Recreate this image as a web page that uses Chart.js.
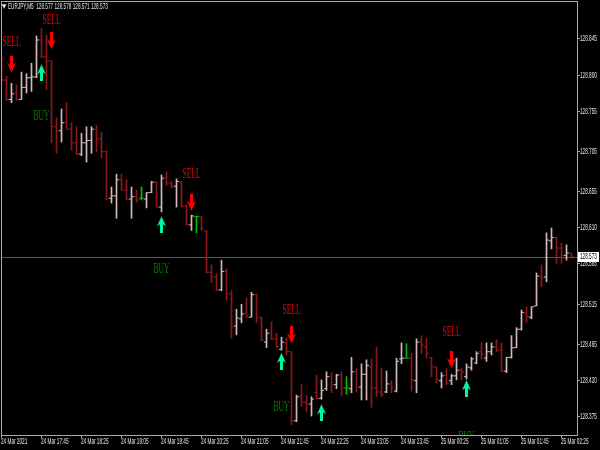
<!DOCTYPE html>
<html>
<head>
<meta charset="utf-8">
<script src="https://cdn.jsdelivr.net/npm/chart.js@4.4.1/dist/chart.umd.min.js"></script>
<style>
  html, body { margin: 0; padding: 0; background: #000; }
  canvas { display: block; }
</style>
</head>
<body>
<canvas id="chart" width="600" height="450"></canvas>
<script>
// EURJPY M5 bars, 24 Mar 17:05 .. 25 Mar 02:35
const symbol = 'EURJPY,M5';

const timeLabels = ['24 Mar 2021', '24 Mar 17:45', '24 Mar 18:25', '24 Mar 19:05', '24 Mar 19:45',
    '24 Mar 20:25', '24 Mar 21:05', '24 Mar 21:45', '24 Mar 22:25', '24 Mar 23:05',
    '24 Mar 23:45', '25 Mar 00:25', '25 Mar 01:05', '25 Mar 01:45', '25 Mar 02:25'];
const labelStep = 8;

const opens = [
    128.803, 128.793, 128.769, 128.776, 128.769, 128.784, 128.796, 128.797, 128.843, 128.822,
    128.817, 128.735, 128.730, 128.740, 128.732, 128.715, 128.701, 128.715, 128.718, 128.732,
    128.720, 128.704, 128.646, 128.649, 128.669, 128.656, 128.645, 128.648, 128.646, 128.645,
    128.653, 128.666, 128.635, 128.671, 128.665, 128.661, 128.666, 128.636, 128.613, 128.623,
    128.623, 128.605, 128.554, 128.548, 128.532, 128.555, 128.527, 128.487, 128.496, 128.503,
    128.498, 128.526, 128.498, 128.467, 128.478, 128.471, 128.458, 128.466, 128.455, 128.369,
    128.399, 128.392, 128.390, 128.404, 128.397, 128.409, 128.424, 128.414, 128.426, 128.410,
    128.409, 128.430, 128.411, 128.427, 128.436, 128.410, 128.405, 128.405, 128.415, 128.406,
    128.446, 128.447, 128.447, 128.419, 128.467, 128.461, 128.448, 128.436, 128.419, 128.426,
    128.419, 128.425, 128.432, 128.424, 128.435, 128.441, 128.455, 128.447, 128.455, 128.461,
    128.457, 128.431, 128.448, 128.460, 128.483, 128.503, 128.498, 128.512, 128.549, 128.548,
    128.593, 128.597, 128.584, 128.575, 128.577
];
const highs = [
    128.823, 128.798, 128.789, 128.787, 128.803, 128.801, 128.814, 128.848, 128.857, 128.849,
    128.817, 128.746, 128.757, 128.765, 128.740, 128.735, 128.727, 128.735, 128.735, 128.737,
    128.728, 128.705, 128.660, 128.676, 128.676, 128.669, 128.660, 128.656, 128.660, 128.653,
    128.667, 128.667, 128.675, 128.679, 128.667, 128.670, 128.667, 128.638, 128.625, 128.624,
    128.624, 128.606, 128.563, 128.552, 128.569, 128.558, 128.531, 128.508, 128.514, 128.522,
    128.529, 128.527, 128.498, 128.483, 128.492, 128.478, 128.473, 128.472, 128.455, 128.401,
    128.414, 128.401, 128.399, 128.426, 128.420, 128.430, 128.429, 128.427, 128.430, 128.424,
    128.448, 128.434, 128.440, 128.445, 128.446, 128.461, 128.435, 128.431, 128.419, 128.447,
    128.466, 128.465, 128.453, 128.471, 128.475, 128.472, 128.448, 128.436, 128.429, 128.434,
    128.427, 128.447, 128.435, 128.440, 128.448, 128.455, 128.466, 128.466, 128.466, 128.470,
    128.466, 128.448, 128.475, 128.485, 128.507, 128.511, 128.511, 128.553, 128.563, 128.603,
    128.609, 128.598, 128.590, 128.588, 128.578
];
const lows = [
    128.791, 128.768, 128.765, 128.768, 128.769, 128.777, 128.779, 128.796, 128.821, 128.781,
    128.715, 128.702, 128.716, 128.732, 128.706, 128.700, 128.699, 128.691, 128.702, 128.704,
    128.696, 128.644, 128.640, 128.621, 128.656, 128.644, 128.621, 128.641, 128.644, 128.634,
    128.653, 128.635, 128.629, 128.662, 128.659, 128.635, 128.635, 128.613, 128.606, 128.603,
    128.606, 128.553, 128.541, 128.531, 128.531, 128.519, 128.472, 128.476, 128.491, 128.498,
    128.498, 128.491, 128.468, 128.460, 128.470, 128.460, 128.457, 128.451, 128.364, 128.368,
    128.387, 128.380, 128.375, 128.396, 128.396, 128.407, 128.404, 128.409, 128.400, 128.402,
    128.404, 128.405, 128.395, 128.395, 128.386, 128.400, 128.399, 128.404, 128.404, 128.405,
    128.440, 128.447, 128.406, 128.404, 128.453, 128.447, 128.424, 128.416, 128.410, 128.414,
    128.414, 128.420, 128.420, 128.421, 128.432, 128.440, 128.446, 128.443, 128.451, 128.455,
    128.430, 128.429, 128.447, 128.460, 128.482, 128.491, 128.496, 128.512, 128.536, 128.542,
    128.583, 128.565, 128.565, 128.569, 128.571
];
const closes = [
    128.793, 128.769, 128.776, 128.769, 128.784, 128.796, 128.797, 128.843, 128.822, 128.817,
    128.735, 128.730, 128.740, 128.732, 128.715, 128.701, 128.715, 128.718, 128.732, 128.720,
    128.704, 128.646, 128.649, 128.669, 128.656, 128.645, 128.648, 128.644, 128.646, 128.653,
    128.666, 128.635, 128.671, 128.665, 128.661, 128.667, 128.636, 128.613, 128.624, 128.623,
    128.609, 128.554, 128.548, 128.532, 128.555, 128.527, 128.487, 128.497, 128.502, 128.498,
    128.526, 128.498, 128.470, 128.478, 128.471, 128.461, 128.467, 128.455, 128.369, 128.399,
    128.392, 128.390, 128.396, 128.397, 128.407, 128.424, 128.414, 128.426, 128.410, 128.410,
    128.430, 128.411, 128.427, 128.438, 128.410, 128.405, 128.402, 128.415, 128.411, 128.443,
    128.447, 128.447, 128.420, 128.467, 128.463, 128.453, 128.436, 128.420, 128.425, 128.416,
    128.425, 128.432, 128.430, 128.436, 128.446, 128.453, 128.452, 128.455, 128.461, 128.457,
    128.431, 128.448, 128.460, 128.483, 128.504, 128.499, 128.511, 128.549, 128.547, 128.594,
    128.597, 128.584, 128.575, 128.578, 128.573
];

const priceTicks = [128.845, 128.800, 128.755, 128.705, 128.655, 128.610, 128.565, 128.515, 128.465, 128.420, 128.375];

// signal indicator
const sellBars = [2, 10, 38, 58, 90];
const sellArrowPrices = [128.813, 128.842, 128.641, 128.476, 128.445];
const sellTextPrices = [128.842, 128.869, 128.677, 128.508, 128.481];
const buyBars = [8, 32, 56, 64, 93];
const buyArrowPrices = [128.802, 128.613, 128.443, 128.379, 128.409];
const buyTextPrices = [128.750, 128.559, 128.387, 128.323, 128.350];

const bullColor = '#d2baba';
const bearColor = '#8c1a1a';
const dojiColor = '#00c000';
const axisColor = '#a8a8a8';
const textColor = '#e4e4e4';
const sansScale = 0.52;
const serifScale = 0.5;

const barColors = opens.map((o, i) => closes[i] > o ? bullColor : (closes[i] < o ? bearColor : dojiColor));

function makeArrow(color, down) {
    const c = document.createElement('canvas');
    c.width = 9;
    c.height = 17;
    const g = c.getContext('2d');
    const pts = [[3, 0], [6, 0], [6, 9], [9, 7], [4.5, 17], [0, 7], [3, 9]];
    g.fillStyle = color;
    g.beginPath();
    pts.forEach(([px, py], k) => {
        const yy = down ? py : 17 - py;
        if (k === 0) g.moveTo(px, yy); else g.lineTo(px, yy);
    });
    g.closePath();
    g.fill();
    return c;
}

function condensedText(ctx, text, x, y, scaleX, align) {
    ctx.save();
    ctx.translate(x, y);
    ctx.scale(scaleX, 1);
    ctx.textAlign = align;
    ctx.fillText(text, 0, 0);
    ctx.restore();
}

const terminalPlugin = {
    id: 'terminal',
    beforeDatasetsDraw(chart) {
        const {ctx, chartArea: a, scales: {y}} = chart;
        const py = Math.round(y.getPixelForValue(closes[closes.length - 1])) + 0.5;
        ctx.save();
        ctx.strokeStyle = '#4c5c6c';
        ctx.lineWidth = 1;
        ctx.beginPath();
        ctx.moveTo(a.left, py);
        ctx.lineTo(a.right, py);
        ctx.stroke();
        ctx.restore();
    },
    afterDatasetsDraw(chart) {
        const {ctx, chartArea: a, scales: {x, y}} = chart;

        // signal labels
        ctx.save();
        ctx.beginPath();
        ctx.rect(a.left, a.top, a.right - a.left, a.bottom - a.top);
        ctx.clip();
        ctx.textBaseline = 'alphabetic';
        ctx.font = '15px "Liberation Serif"';
        ctx.fillStyle = '#f00000';
        sellBars.forEach((b, k) => {
            condensedText(ctx, 'SELL', x.getPixelForValue(b), y.getPixelForValue(sellTextPrices[k]) + 5, serifScale, 'center');
        });
        ctx.fillStyle = '#008000';
        buyBars.forEach((b, k) => {
            condensedText(ctx, 'BUY', x.getPixelForValue(b), y.getPixelForValue(buyTextPrices[k]) + 5, serifScale, 'center');
        });
        ctx.restore();

        // frame
        ctx.save();
        ctx.strokeStyle = axisColor;
        ctx.lineWidth = 1;
        ctx.strokeRect(a.left + 0.5, a.top + 0.5, a.right - a.left, a.bottom - a.top);

        ctx.font = '9px "Liberation Sans"';
        ctx.textBaseline = 'middle';

        // price axis
        priceTicks.forEach(v => {
            const py = Math.round(y.getPixelForValue(v)) + 0.5;
            ctx.beginPath();
            ctx.moveTo(a.right, py);
            ctx.lineTo(a.right + 3, py);
            ctx.stroke();
            ctx.fillStyle = textColor;
            condensedText(ctx, v.toFixed(3), a.right + 3, py, sansScale, 'left');
        });

        // time axis
        timeLabels.forEach((t, k) => {
            const px = Math.floor(x.getPixelForValue(k * labelStep)) + 0.5;
            ctx.beginPath();
            ctx.moveTo(px, a.bottom);
            ctx.lineTo(px, a.bottom + 3);
            ctx.stroke();
            ctx.fillStyle = textColor;
            condensedText(ctx, t, px - 0.5, a.bottom + 7, sansScale, 'left');
        });

        // current price box
        const last = closes.length - 1;
        const cy = Math.round(y.getPixelForValue(closes[last]));
        ctx.fillStyle = '#ffffff';
        ctx.fillRect(a.right + 1, cy - 5, 21, 10);
        ctx.fillStyle = '#000000';
        condensedText(ctx, closes[last].toFixed(3), a.right + 3, cy, sansScale, 'left');

        // header
        ctx.fillStyle = textColor;
        ctx.font = '6px "DejaVu Sans"';
        condensedText(ctx, '\u25BC', 4, 6, 1, 'center');
        ctx.font = '9px "Liberation Sans"';
        const header = symbol + '  ' + [opens[last], highs[last], lows[last], closes[last]].map(v => v.toFixed(3)).join(' ');
        condensedText(ctx, header, 8, 7, sansScale, 'left');
        ctx.restore();
    }
};

const idx = opens.map((_, i) => i);

new Chart(document.getElementById('chart'), {
    type: 'bar',
    data: {
        datasets: [
            {
                type: 'bar',
                data: idx.map(i => ({x: i, y: [lows[i], highs[i]]})),
                backgroundColor: barColors,
                borderWidth: 0,
                barThickness: 1,
                grouped: false
            },
            {
                type: 'scatter',
                data: idx.map(i => ({x: i - 0.3, y: opens[i]})),
                pointStyle: 'line',
                pointRadius: 1,
                pointHoverRadius: 1,
                pointBorderWidth: 1,
                pointBorderColor: barColors,
                pointBackgroundColor: barColors
            },
            {
                type: 'scatter',
                data: idx.map(i => ({x: i + 0.3, y: closes[i]})),
                pointStyle: 'line',
                pointRadius: 1,
                pointHoverRadius: 1,
                pointBorderWidth: 1,
                pointBorderColor: barColors,
                pointBackgroundColor: barColors
            },
            {
                type: 'scatter',
                data: sellBars.map((b, k) => ({x: b, y: sellArrowPrices[k]})),
                pointStyle: makeArrow('#ff0000', true)
            },
            {
                type: 'scatter',
                data: buyBars.map((b, k) => ({x: b, y: buyArrowPrices[k]})),
                pointStyle: makeArrow('#00fa9a', false)
            }
        ]
    },
    options: {
        responsive: false,
        animation: false,
        events: [],
        layout: {
            autoPadding: false,
            padding: {left: 1, top: 1, right: 23, bottom: 15}
        },
        plugins: {
            legend: {display: false},
            tooltip: {enabled: false}
        },
        scales: {
            x: {
                type: 'linear',
                min: -0.1,
                max: 115.1,
                offset: false,
                display: false
            },
            y: {
                type: 'linear',
                min: 128.3514,
                max: 128.8915,
                display: false
            }
        }
    },
    plugins: [terminalPlugin]
});
</script>
</body>
</html>
